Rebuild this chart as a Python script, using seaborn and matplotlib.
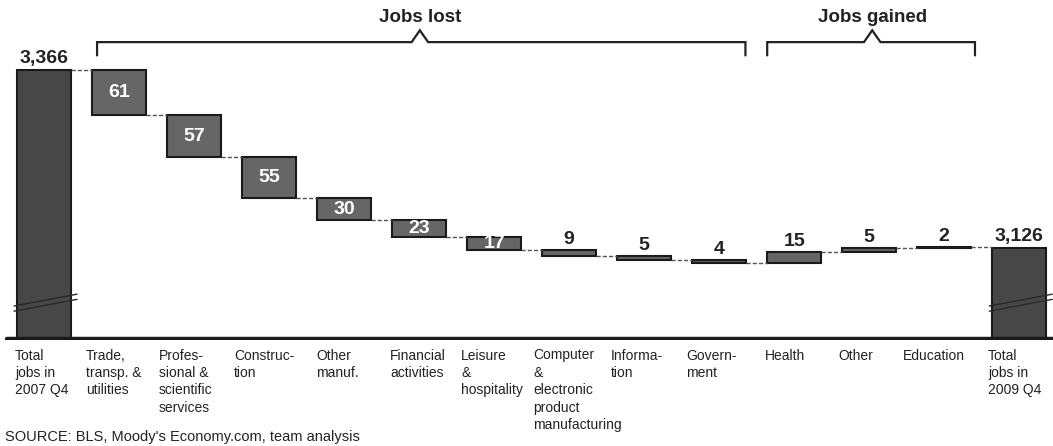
import matplotlib
matplotlib.use("Agg")
import matplotlib.pyplot as plt
import seaborn as sns
import numpy as np
import pandas as pd

# ---------------- data ----------------
categories = ["Total\njobs in\n2007 Q4", "Trade,\ntransp. &\nutilities",
              "Profes-\nsional &\nscientific\nservices", "Construc-\ntion",
              "Other\nmanuf.", "Financial\nactivities", "Leisure\n&\nhospitality",
              "Computer\n&\nelectronic\nproduct\nmanufacturing", "Informa-\ntion",
              "Govern-\nment", "Health", "Other", "Education",
              "Total\njobs in\n2009 Q4"]
start_total = 3366
end_total = 3126
changes = [-61, -57, -55, -30, -23, -17, -9, -5, -4, 15, 5, 2]
value_labels = ["61", "57", "55", "30", "23", "17", "9", "5", "4", "15", "5", "2"]
total_labels = ["3,366", "3,126"]
group_titles = ["Jobs lost", "Jobs gained"]
source_text = "SOURCE: BLS, Moody's Economy.com, team analysis"

# ---------------- layout (pixel left edges of category labels) ----------------
label_px = [15, 86, 159, 234, 316, 390, 461, 533, 611, 686, 765, 838, 903, 988]

# ---------------- derived ----------------
levels = [start_total]
for c in changes:
    levels.append(levels[-1] + c)
bottoms = [min(levels[i], levels[i + 1]) for i in range(len(changes))]
heights = [abs(c) for c in changes]

cat_keys = [f"c{i}" for i in range(len(categories))]
df_tot = pd.DataFrame({"cat": [cat_keys[0], cat_keys[-1]], "val": [start_total, end_total]})
df_step = pd.DataFrame({"cat": cat_keys[1:-1], "val": heights})

# ---------------- style ----------------
sns.set_theme(style="white")
plt.rcParams["font.family"] = ["Liberation Sans", "DejaVu Sans"]

fig = plt.figure(figsize=(10.53, 4.46), dpi=100)
ax = fig.add_axes([0, 106 / 446, 1, 340 / 446])

W = 0.72
sns.barplot(data=df_tot, x="cat", y="val", order=cat_keys, color="#474747",
            saturation=1, width=W, edgecolor="#1a1a1a", linewidth=1.5, ax=ax)
sns.barplot(data=df_step, x="cat", y="val", order=cat_keys, color="#666666",
            saturation=1, width=W, edgecolor="#1a1a1a", linewidth=1.5,
            bottom=bottoms, ax=ax)

ymin, ymax = 3001, 3461
x0, x1 = -0.587, 13.45
ax.set_ylim(ymin, ymax)
ax.set_xlim(x0, x1)
for s in ax.spines.values():
    s.set_visible(False)
ax.set_xticks([])
ax.set_yticks([])
ax.set_xlabel("")
ax.set_ylabel("")

# baseline
ax.axhline(ymin + 1.5, xmin=0.007, xmax=1, color="#1a1a1a", lw=3.2, zorder=5)

# connectors
for i in range(len(categories) - 1):
    lv = levels[i]
    ax.hlines(lv, i + W / 2, i + 1 - W / 2, colors="#555555", lw=1.0,
              linestyles=(0, (3, 1.5)), zorder=1)

# value labels
n = len(categories)
ax.text(0, start_total + 4, total_labels[0], ha="center", va="bottom",
        fontsize=14, fontweight="bold", color="#222222")
ax.text(n - 1, end_total + 4, total_labels[1], ha="center", va="bottom",
        fontsize=14, fontweight="bold", color="#222222")
for i, (c, lab) in enumerate(zip(changes, value_labels)):
    x = i + 1
    b, h = bottoms[i], heights[i]
    if h >= 17:
        ax.text(x, b + h / 2, lab, ha="center", va="center", fontsize=14,
                fontweight="bold", color="white", zorder=6)
    else:
        ax.text(x, b + h + 3, lab, ha="center", va="bottom", fontsize=14,
                fontweight="bold", color="#222222", zorder=6)

# axis break marks on total bars
for xc in (0, n - 1):
    for dy in (0, -7):
        ax.plot([xc - 0.40, xc + 0.44], [3047 + dy, 3063 + dy], color="#2a2a2a",
                lw=1.0, zorder=6, clip_on=False)

# brackets
def bracket(xa, xb, xp, title):
    yl, yt, yp = 3404, 3386, 3420
    nw = 0.11
    ax.plot([xa, xa, xp - nw, xp, xp + nw, xb, xb],
            [yt, yl, yl, yp, yl, yl, yt], color="#222222", lw=1.6,
            solid_joinstyle="miter", clip_on=False)
    ax.text(xp, 3438, title, ha="center", va="center", fontsize=13.5,
            fontweight="bold", color="#222222")

bracket(0.707, 9.35, 5.01, group_titles[0])
bracket(9.64, 12.41, 11.04, group_titles[1])

# category labels (one text per line)
px_per_unit = 1053 / (x1 - x0)
pitch = 17.4 / 340
for lab, px in zip(categories, label_px):
    for k, line in enumerate(lab.split("\n")):
        ax.text(px / px_per_unit + x0, -0.025 - k * pitch, line,
                transform=ax.get_xaxis_transform(),
                ha="left", va="top", fontsize=10, color="#222222")

fig.text(0.005, 1 - 430 / 446, source_text, ha="left", va="top",
         fontsize=10.5, color="#222222")

fig.savefig("out.png", dpi=100)
